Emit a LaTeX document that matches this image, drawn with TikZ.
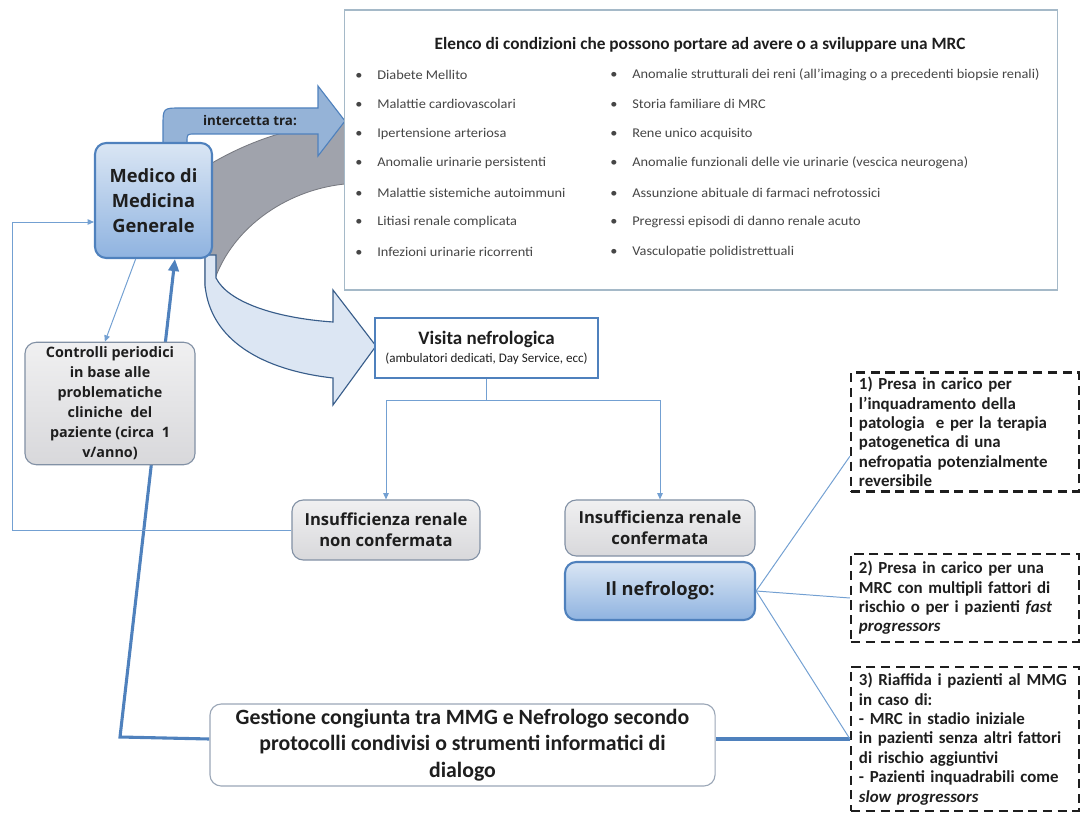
\documentclass[tikz,border=0pt]{standalone}
\usepackage{fontspec}
\setmainfont{Carlito}
\newfontfamily\boxfont{Open Sans}
\newfontfamily\listfont[FakeStretch=1.075]{Carlito}
\usetikzlibrary{arrows.meta,positioning,calc,backgrounds}
\definecolor{ink}{RGB}{30,30,30}
\definecolor{listtxt}{RGB}{70,70,70}
\definecolor{frame}{RGB}{165,185,200}
\definecolor{mmgtop}{RGB}{218,230,244}
\definecolor{mmgbot}{RGB}{143,179,224}
\definecolor{mmgedge}{RGB}{79,129,189}
\definecolor{greytop}{RGB}{240,240,241}
\definecolor{greybot}{RGB}{216,216,219}
\definecolor{greyedge}{RGB}{130,145,165}
\definecolor{link}{RGB}{115,160,210}
\definecolor{back}{RGB}{160,163,172}
\definecolor{front}{RGB}{220,230,243}
\definecolor{frontedge}{RGB}{56,93,138}
\definecolor{bend}{RGB}{149,179,215}
\tikzset{
  listbox/.style={draw=frame,fill=white,line width=0.8pt,minimum width=17.8cm,minimum height=7cm},
  listtitle/.style={inner sep=0pt,text=ink,font=\bfseries\fontsize{12.3}{14}\selectfont},
  listitem/.style={anchor=west,inner sep=0pt,text=listtxt,font=\listfont\fontsize{9.5}{11}\selectfont},
  bluebox/.style={draw=mmgedge,line width=1.5pt,rounded corners=8pt,top color=mmgtop,bottom color=mmgbot,
    align=center,text=ink,font=\boxfont\bfseries\fontsize{13}{18}\selectfont},
  greybox/.style={draw=greyedge,line width=0.8pt,rounded corners=8pt,top color=greytop,bottom color=greybot,
    align=center,text=ink,font=\boxfont\bfseries\fontsize{11.8}{15}\selectfont},
  visitbox/.style={draw=mmgedge,line width=1.8pt,fill=white,align=center,text=ink},
  dashbox/.style={draw=ink,line width=1.5pt,dash pattern=on 6.5pt off 4pt,fill=white,align=left,
    text width=5.3cm,inner xsep=0.2cm,text=ink,font=\bfseries\fontsize{12}{13.8}\selectfont},
  gestbox/.style={draw=greyedge!80,line width=0.8pt,rounded corners=8pt,fill=white,align=center,text=ink,
    minimum width=12.625cm,minimum height=2.05cm,font=\bfseries\fontsize{15.5}{19}\selectfont},
  thinline/.style={link,line width=0.7pt},
  thinarr/.style={link,line width=0.7pt,-{Triangle[length=1.6mm,width=1.4mm]}},
  thickline/.style={mmgedge,line width=2.2pt},
  thickarr/.style={mmgedge,line width=2.2pt,-{Triangle[length=3mm,width=2.6mm]}},
}

\begin{document}
\begin{tikzpicture}[x=0.025cm,y=-0.025cm]
\useasboundingbox (0,0) rectangle (1084,819);

% list of conditions
\node[listbox] (list) at (701,150) {};
\node[listtitle] (ltitle) at (700,45) {Elenco di condizioni che possono portare ad avere o a sviluppare una MRC};
\foreach \txt [count=\i] in {Diabete Mellito, Malattie cardiovascolari, Ipertensione arteriosa,
    Anomalie urinarie persistenti, Malattie sistemiche autoimmuni, Litiasi renale complicata,
    Infezioni urinarie ricorrenti}
  \node[listitem] (a\i) at (355,{45+29.5*\i}) {\makebox[0.55cm][l]{\textbullet}\txt};
\foreach \txt [count=\i] in {Anomalie strutturali dei reni (all’imaging o a precedenti biopsie renali),
    Storia familiare di MRC, Rene unico acquisito,
    Anomalie funzionali delle vie urinarie (vescica neurogena),
    Assunzione abituale di farmaci nefrotossici, Pregressi episodi di danno renale acuto,
    Vasculopatie polidistrettuali}
  \node[listitem] (b\i) at (610,{45+29.5*\i}) {\makebox[0.55cm][l]{\textbullet}\txt};

% main boxes
\node[bluebox,minimum width=2.925cm,minimum height=2.875cm] (mmg) at (153.5,200.5) {Medico di\\Medicina\\Generale};
\node[greybox,minimum width=4.25cm,minimum height=2.925cm,
  font=\boxfont\bfseries\fontsize{10.2}{14.2}\selectfont] (ctrl) at (110,403.5)
  {Controlli periodici\\in base alle\\problematiche\\cliniche\ \ del\\paziente (circa\ \ 1\\v/anno)};
\node[visitbox,minimum width=5.575cm,minimum height=1.5cm] (visita) at (486.5,348)
  {\bfseries\fontsize{13.5}{16}\selectfont Visita nefrologica\\[1pt]
   \fontsize{9.3}{11}\selectfont(ambulatori dedicati, Day Service, ecc)};
\node[greybox,minimum width=4.7cm,minimum height=1.5cm] (noconf) at (386,530) {Insufficienza renale\\non confermata};
\node[greybox,minimum width=4.75cm,minimum height=1.4cm] (conf) at (660,528) {Insufficienza renale\\confermata};
\node[bluebox,minimum width=4.75cm,minimum height=1.45cm,font=\boxfont\bfseries\fontsize{13}{15}\selectfont] (nefro)
  at (660,591) {Il nefrologo:};

% what the nephrologist does
\node[dashbox,minimum height=2.95cm] (box1) at (965,432)
  {1) Presa in carico per\\l’inquadramento della\\patologia\ \ e per la terapia\\patogenetica di una\\nefropatia potenzialmente\\reversibile};
\node[dashbox,minimum height=2.2cm] (box2) at (965,598)
  {2) Presa in carico per una\\MRC con multipli fattori di\\rischio o per i pazienti \textit{fast}\\\textit{progressors}};
\node[dashbox,minimum height=3.6cm] (box3) at (965,739)
  {3) Riaffida i pazienti al MMG\\in caso di:\\- MRC in stadio iniziale\\in pazienti senza altri fattori\\di rischio aggiuntivi\\- Pazienti inquadrabili come\\\textit{slow progressors}};

\node[gestbox] (gest) at (462.5,745)
  {Gestione congiunta tra MMG e Nefrologo secondo\\protocolli condivisi o strumenti informatici di\\dialogo};

% arrows behind the boxes
\begin{scope}[on background layer]
\draw[back!75!black,fill=back,line width=0.6pt] (205,170) -- (212,163) .. controls (255,138) and (300,125) .. (345,122)
  -- (345,184) .. controls (285,190) and (228,230) .. (212,288) -- (205,288) -- cycle;
\draw[frontedge,fill=front,line width=0.8pt] (205,255) -- (205,285) .. controls (210,340) and (262,370) .. (333,378)
  -- (333,405) -- (376,346) -- (333,290) -- (333,322) .. controls (275,318) and (228,302) .. (216,278) -- (216,255) -- cycle;
\draw[mmgedge,fill=bend,line width=0.8pt] (163,146) -- (163,126) .. controls (163,108) .. (181,108) -- (318,108)
  -- (318,86) -- (345,121) -- (318,156) -- (318,134) -- (195,134) .. controls (187,134) .. (187,142) -- (187,146) -- cycle;
\coordinate (ret) at (120,737);
\draw[thickline] (box3.west) -- (box3.west -| gest.east);
\draw[thickarr] (box3.west -| gest.west) -- (ret) -- ($(mmg.south west)!0.68!(mmg.south east)$);
\end{scope}
\node[font=\boxfont\bfseries\fontsize{9.5}{11}\selectfont,text=ink,inner sep=0pt] (bendlbl) at (250,121) {intercetta tra:};

% connectors
\draw[thinarr] ($(mmg.south west)!0.35!(mmg.south east)$) -- ($(ctrl.north west)!0.47!(ctrl.north east)$);
\coordinate (loop) at (12,222);
\draw[thinarr] (noconf.west) -| (loop) -- (loop -| mmg.west);
\coordinate (split) at (486.5,400);
\draw[thinline] (visita.south) -- (split);
\draw[thinarr] (split) -| (noconf.north);
\draw[thinarr] (split) -| (conf.north);
\draw[thinline] (nefro.east) -- ($(box1.south west)!0.3!(box1.north west)$);
\draw[thinline] (nefro.east) -- (box2.west);
\draw[thinline] (nefro.east) -- (box3.west);
\end{tikzpicture}
\end{document}
